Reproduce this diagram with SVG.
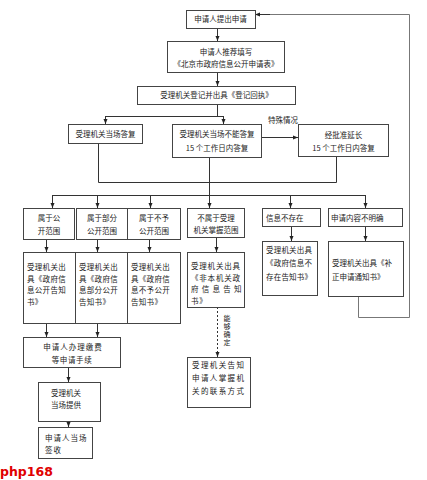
<svg xmlns="http://www.w3.org/2000/svg" width="427" height="480" viewBox="0 0 427 480">
<style>
.b{fill:#fff;stroke:#444;stroke-width:1}
.t{font-family:"Noto Sans CJK SC","Noto Sans",sans-serif;font-size:7.5px;fill:#222}
.c{text-anchor:middle}
.l{fill:none;stroke:#333;stroke-width:1}
.g{fill:none;stroke:#777;stroke-width:1}
.a{marker-end:url(#ah)}
</style>
<defs>
<marker id="ah" viewBox="0 0 10 10" refX="10" refY="5" markerWidth="5" markerHeight="5" markerUnits="userSpaceOnUse" orient="auto">
<path d="M0,1 L10,5 L0,9 z" fill="#222"/>
</marker>
</defs>
<rect width="427" height="480" fill="#fff"/>
<g id="connectors">
<path class="l a" d="M217.5,28 V41"/>
<path class="l a" d="M217.5,72 V86"/>
<path class="l" d="M217.5,104 V116.5 M105.5,116.5 H223.5"/>
<path class="l a" d="M105.5,116 V124"/>
<path class="l a" d="M223.5,116 V124"/>
<path class="l a" d="M261,137.5 H298"/>
<path class="l" d="M98.5,143 V182.5 H336.5 V156"/>
<path class="l" d="M209.5,157 V195.5 M52.5,195.5 H365.5"/>
<path class="l a" d="M52.5,195 V208"/>
<path class="l a" d="M97.5,195 V208"/>
<path class="l a" d="M150.5,195 V208"/>
<path class="l a" d="M209.5,195 V208"/>
<path class="l a" d="M290.5,195 V208"/>
<path class="l a" d="M365.5,195 V208"/>
<path class="l a" d="M46.5,239 V252"/>
<path class="l a" d="M97.5,239 V252"/>
<path class="l a" d="M149.5,239 V252"/>
<path class="l a" d="M216.5,237 V252"/>
<path class="l a" d="M291.5,226 V241"/>
<path class="l a" d="M365.5,226 V241"/>
<path class="l a" d="M217.5,307 V357" stroke-dasharray="2,2"/>
<path class="l a" d="M46.5,323 V337"/>
<path class="l a" d="M97.5,323 V337"/>
<path class="l a" d="M68.5,367 V382"/>
<path class="l a" d="M68.5,421 V427"/>
<path class="g" d="M358.5,296 V317.5 H409.5 V14.5 H262"/>
<path class="l a" d="M270,14.5 H255"/>
<text class="t" x="268" y="123">特殊情况</text>
<text class="t" x="227" y="315" style="font-size:7px;writing-mode:vertical-rl" letter-spacing="1">能够确定</text>
</g>
<g id="n1"><rect class="b" x="186.5" y="10.5" width="69" height="18"/><text class="t c" x="220.5" y="22">申请人提出申请</text></g>
<g id="n2"><rect class="b" x="167.5" y="41.5" width="117" height="31"/><text class="t c" x="226" y="54.5">申请人推荐填写</text><text class="t c" x="226" y="66.5">《北京市政府信息公开申请表》</text></g>
<g id="n3"><rect class="b" x="137.5" y="86.5" width="158" height="18"/><text class="t c" x="216.5" y="98">受理机关登记并出具《登记回执》</text></g>
<g id="n4"><rect class="b" x="68.5" y="124.5" width="74" height="19"/><text class="t c" x="105.5" y="137">受理机关当场答复</text></g>
<g id="n5"><rect class="b" x="172.5" y="124.5" width="89" height="33"/><text class="t c" x="217" y="137">受理机关当场不能答复</text><text class="t c" x="217" y="151">15 个工作日内答复</text></g>
<g id="n6"><rect class="b" x="298.5" y="124.5" width="90" height="32"/><text class="t c" x="343.5" y="138">经批准延长</text><text class="t c" x="343.5" y="151">15 个工作日内答复</text></g>
<g id="n7"><rect class="b" x="23.5" y="208.5" width="51" height="31"/><text class="t c" x="49" y="221">属于公</text><text class="t c" x="49" y="233.5">开范围</text></g>
<g id="n8"><rect class="b" x="76.5" y="208.5" width="51" height="31"/><text class="t c" x="102" y="221">属于部分</text><text class="t c" x="102" y="233.5">公开范围</text></g>
<g id="n9"><rect class="b" x="127.5" y="208.5" width="53" height="31"/><text class="t c" x="154" y="221">属于不予</text><text class="t c" x="154" y="233.5">公开范围</text></g>
<g id="n10"><rect class="b" x="187.5" y="208.5" width="57" height="29"/><text class="t c" x="216" y="220.5">不属于受理</text><text class="t c" x="216" y="232.5">机关掌握范围</text></g>
<g id="n11"><rect class="b" x="262.5" y="208.5" width="58" height="18"/><text class="t" x="266" y="220.5">信息不存在</text></g>
<g id="n12"><rect class="b" x="328.5" y="208.5" width="74" height="18"/><text class="t" x="331" y="220.5">申请内容不明确</text></g>
<g id="n13"><rect class="b" x="23.5" y="252.5" width="52" height="71"/><text class="t" x="27" y="270" letter-spacing="0.3">受理机关出</text><text class="t" x="27" y="281.5" letter-spacing="0.3">具《政府信</text><text class="t" x="27" y="293" letter-spacing="0.3">息公开告知</text><text class="t" x="27" y="305" letter-spacing="0.3">书》</text></g>
<g id="n14"><rect class="b" x="75.5" y="252.5" width="52" height="71"/><text class="t" x="79" y="270" letter-spacing="0.3">受理机关出</text><text class="t" x="79" y="281.5" letter-spacing="0.3">具《政府信</text><text class="t" x="79" y="293" letter-spacing="0.3">息部分公开</text><text class="t" x="79" y="305" letter-spacing="0.3">告知书》</text></g>
<g id="n15"><rect class="b" x="127.5" y="252.5" width="53" height="71"/><text class="t" x="131" y="270" letter-spacing="0.3">受理机关出</text><text class="t" x="131" y="281.5" letter-spacing="0.3">具《政府信</text><text class="t" x="131" y="293" letter-spacing="0.3">息不予公开</text><text class="t" x="131" y="305" letter-spacing="0.3">告知书》</text></g>
<g id="n16"><rect class="b" x="187.5" y="252.5" width="57" height="55"/><text class="t" x="191" y="269" letter-spacing="0.8">受理机关出具</text><text class="t" x="191" y="280.5" letter-spacing="0.8">《非本机关政</text><text class="t" x="191" y="292" letter-spacing="0.8">府 信 息 告 知</text><text class="t" x="191" y="304" letter-spacing="0.8">书》</text></g>
<g id="n17"><rect class="b" x="262.5" y="241.5" width="55" height="54"/><text class="t" x="266" y="253" letter-spacing="0.2">受理机关出具</text><text class="t" x="266" y="266" letter-spacing="0.2">《政府信息不</text><text class="t" x="266" y="280" letter-spacing="0.2">存在告知书》</text></g>
<g id="n18"><rect class="b" x="328.5" y="241.5" width="75" height="55"/><text class="t" x="332" y="266">受理机关出具《补</text><text class="t" x="332" y="280">正申请通知书》</text></g>
<g id="n19"><rect class="b" x="187.5" y="357.5" width="63" height="50"/><text class="t" x="192" y="368" letter-spacing="1.4">受理机关告知</text><text class="t" x="192" y="381" letter-spacing="1.4">申请人掌握机</text><text class="t" x="192" y="394" letter-spacing="1.4">关的联系方式</text></g>
<g id="n20"><rect class="b" x="23.5" y="337.5" width="97" height="30"/><text class="t c" x="73" y="350" letter-spacing="1">申请人办理缴费</text><text class="t c" x="72" y="363" letter-spacing="0.6">等申请手续</text></g>
<g id="n21"><rect class="b" x="38.5" y="382.5" width="62" height="39"/><text class="t c" x="66" y="396">受理机关</text><text class="t c" x="66" y="408">当场提供</text></g>
<g id="n22"><rect class="b" x="38.5" y="427.5" width="54" height="31"/><text class="t" x="45" y="441" letter-spacing="1">申请人当场</text><text class="t" x="45" y="453" letter-spacing="1">签收</text></g>
<text x="0" y="476" style="font-family:'DejaVu Sans',sans-serif;font-weight:bold;font-size:12.5px;fill:#e00000">php168</text>
</svg>
